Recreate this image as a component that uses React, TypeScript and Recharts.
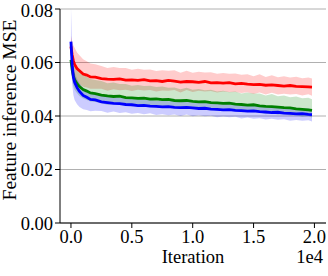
import React from "react";
import {
  ComposedChart,
  Area,
  Line,
  XAxis,
  YAxis,
  CartesianGrid,
  ReferenceArea,
} from "recharts";

// iteration count (x axis shown in units of 1e4)
const iterations = [
  0, 100, 200, 300, 500, 700, 1000, 1300, 1600, 2000,
  2500, 3000, 3500, 4000, 4500, 5000, 5500, 6000, 6500, 7000,
  7500, 8000, 8500, 9000, 9500, 10000, 10500, 11000, 11500, 12000,
  12500, 13000, 13500, 14000, 14500, 15000, 15500, 16000, 16500, 17000,
  17500, 18000, 18500, 19000, 19500, 19800,
];

// mean MSE per run
const redMean = [
  0.066, 0.0628, 0.0606, 0.0593, 0.0577, 0.0569, 0.0557, 0.0553, 0.0546, 0.0545,
  0.054, 0.0538, 0.0537, 0.0539, 0.0534, 0.0535, 0.0533, 0.0536, 0.0531, 0.0532,
  0.0529, 0.0533, 0.053, 0.0527, 0.0529, 0.0528, 0.0526, 0.0529, 0.0524, 0.0525,
  0.0523, 0.0525, 0.052, 0.0522, 0.0519, 0.0517, 0.0518, 0.0515, 0.0516, 0.0514,
  0.0512, 0.0514, 0.0511, 0.051, 0.0509, 0.0508,
];
const greenMean = [
  0.061, 0.0572, 0.055, 0.0536, 0.0521, 0.051, 0.0499, 0.0493, 0.0486, 0.0484,
  0.0478, 0.0475, 0.0473, 0.0474, 0.0469, 0.0468, 0.0466, 0.0467, 0.0463, 0.0464,
  0.0461, 0.0462, 0.0458, 0.0457, 0.0458, 0.0455, 0.0453, 0.0454, 0.045, 0.0449,
  0.0447, 0.0448, 0.0444, 0.0443, 0.0441, 0.0442, 0.0438, 0.0436, 0.0435, 0.0433,
  0.0431, 0.043, 0.0427, 0.0425, 0.0423, 0.0421,
];
const blueMean = [
  0.0678, 0.059, 0.0546, 0.0526, 0.0506, 0.0492, 0.0477, 0.047, 0.0462, 0.046,
  0.0453, 0.045, 0.0447, 0.0446, 0.0443, 0.0442, 0.0439, 0.044, 0.0437, 0.0436,
  0.0434, 0.0435, 0.0432, 0.0431, 0.0432, 0.043, 0.0428, 0.0429, 0.0426, 0.0425,
  0.0423, 0.0424, 0.0421, 0.042, 0.0418, 0.0419, 0.0416, 0.0415, 0.0413, 0.0414,
  0.0411, 0.041, 0.0408, 0.0409, 0.0406, 0.0405,
];

// shaded band: distance above / below the mean
const redUp = [
  0.004, 0.005, 0.0058, 0.0062, 0.006, 0.0058, 0.0055, 0.0052, 0.005, 0.0048,
  0.0047, 0.0041, 0.0046, 0.004, 0.0045, 0.0038, 0.0044, 0.0037, 0.0043, 0.0036,
  0.0042, 0.0036, 0.0041, 0.0035, 0.004, 0.0034, 0.0039, 0.0034, 0.004, 0.0033,
  0.0038, 0.0033, 0.0039, 0.0032, 0.0037, 0.0032, 0.0038, 0.0031, 0.0036, 0.0031,
  0.0037, 0.003, 0.0036, 0.0031, 0.0035, 0.0032,
];
const redDown = [
  0.004, 0.0048, 0.0052, 0.0054, 0.0052, 0.005, 0.0048, 0.0046, 0.0044, 0.0043,
  0.0038, 0.0044, 0.0037, 0.0043, 0.0036, 0.0042, 0.0035, 0.0041, 0.0034, 0.004,
  0.0034, 0.0039, 0.0033, 0.0039, 0.0032, 0.0038, 0.0032, 0.0037, 0.0031, 0.0037,
  0.0031, 0.0036, 0.003, 0.0036, 0.003, 0.0035, 0.003, 0.0035, 0.0029, 0.0034,
  0.0029, 0.0034, 0.0029, 0.0033, 0.0028, 0.0032,
];
const greenUp = [
  0.004, 0.0055, 0.006, 0.0062, 0.006, 0.0058, 0.0056, 0.0054, 0.0052, 0.0051,
  0.0053, 0.0047, 0.0052, 0.0046, 0.0051, 0.0045, 0.005, 0.0045, 0.005, 0.0044,
  0.0049, 0.0044, 0.0049, 0.0043, 0.0048, 0.0043, 0.0048, 0.0042, 0.0048, 0.0043,
  0.0047, 0.0042, 0.0048, 0.0041, 0.0047, 0.0042, 0.0046, 0.0041, 0.0047, 0.0041,
  0.0046, 0.004, 0.0046, 0.0041, 0.0045, 0.0042,
];
const greenDown = [
  0.0035, 0.004, 0.004, 0.0038, 0.0036, 0.0035, 0.0034, 0.0033, 0.0032, 0.0032,
  0.0029, 0.0034, 0.0028, 0.0033, 0.0028, 0.0032, 0.0027, 0.0032, 0.0027, 0.0031,
  0.0027, 0.0031, 0.0026, 0.0031, 0.0026, 0.003, 0.0026, 0.003, 0.0025, 0.003,
  0.0025, 0.0029, 0.0025, 0.0029, 0.0025, 0.0029, 0.0024, 0.0029, 0.0024, 0.0028,
  0.0024, 0.0028, 0.0024, 0.0028, 0.0023, 0.0027,
];
const blueUp = [
  0.013, 0.006, 0.0042, 0.0036, 0.0032, 0.003, 0.0028, 0.0027, 0.0026, 0.0026,
  0.0028, 0.0022, 0.0027, 0.0022, 0.0027, 0.0021, 0.0026, 0.0021, 0.0026, 0.002,
  0.0026, 0.002, 0.0025, 0.002, 0.0025, 0.0019, 0.0025, 0.002, 0.0024, 0.0019,
  0.0024, 0.0019, 0.0024, 0.0018, 0.0024, 0.0019, 0.0023, 0.0018, 0.0023, 0.0018,
  0.0023, 0.0018, 0.0022, 0.0018, 0.0022, 0.0019,
];
const blueDown = [
  0.006, 0.007, 0.0068, 0.0066, 0.0062, 0.0058, 0.0052, 0.0048, 0.0044, 0.004,
  0.0034, 0.0038, 0.003, 0.0035, 0.0029, 0.0034, 0.0028, 0.0033, 0.0027, 0.0032,
  0.0027, 0.0032, 0.0026, 0.0031, 0.0026, 0.0031, 0.0025, 0.003, 0.0025, 0.003,
  0.0025, 0.0029, 0.0024, 0.0029, 0.0024, 0.0029, 0.0024, 0.0028, 0.0023, 0.0028,
  0.0023, 0.0028, 0.0023, 0.0027, 0.0022, 0.0026,
];

const xTicks = [0, 5000, 10000, 15000, 20000];
const yTicks = [0, 0.02, 0.04, 0.06, 0.08];

const FONT = "'Liberation Serif', 'Times New Roman', serif";
const FONT_SIZE = 18.5;

const data = iterations.map((it, i) => ({
  it,
  red: redMean[i],
  green: greenMean[i],
  blue: blueMean[i],
  redBand: [redMean[i] - redDown[i], redMean[i] + redUp[i]],
  greenBand: [greenMean[i] - greenDown[i], greenMean[i] + greenUp[i]],
  blueBand: [blueMean[i] - blueDown[i], blueMean[i] + blueUp[i]],
}));

const tickStyle = { fontFamily: FONT, fontSize: FONT_SIZE, fill: "#000" };

export default function App() {
  return (
    <div style={{ position: "absolute", left: 0, top: 0, width: 328, height: 276, background: "#fff" }}>
      <ComposedChart
        width={328}
        height={276}
        data={data}
        margin={{ top: 9, right: 2, bottom: 0, left: 0 }}
      >
        <CartesianGrid vertical={false} stroke="#b0b0b0" strokeWidth={1} />
        <XAxis
          dataKey="it"
          type="number"
          domain={[-900, 20950]}
          ticks={xTicks}
          tickFormatter={(v: number) => (v / 1e4).toFixed(1)}
          tick={tickStyle}
          tickSize={5}
          tickMargin={2}
          height={53}
          stroke="#000"
          allowDataOverflow
        />
        <YAxis
          type="number"
          domain={[0, 0.08]}
          ticks={yTicks}
          tickFormatter={(v: number) => v.toFixed(2)}
          tick={tickStyle}
          tickSize={5}
          tickMargin={2}
          width={60}
          stroke="#000"
          allowDataOverflow
        />

        {/* shaded spread bands */}
        <Area dataKey="redBand" type="linear" stroke="none" fill="#ff0000" fillOpacity={0.2} isAnimationActive={false} />
        <Area dataKey="greenBand" type="linear" stroke="none" fill="#008000" fillOpacity={0.2} isAnimationActive={false} />
        <Area dataKey="blueBand" type="linear" stroke="none" fill="#0000ff" fillOpacity={0.2} isAnimationActive={false} />

        {/* mean curves */}
        <Line dataKey="red" type="linear" stroke="#ff0000" strokeWidth={2.8} dot={false} isAnimationActive={false} />
        <Line dataKey="green" type="linear" stroke="#008000" strokeWidth={2.8} dot={false} isAnimationActive={false} />
        <Line dataKey="blue" type="linear" stroke="#0000ff" strokeWidth={2.8} dot={false} isAnimationActive={false} />

        {/* full frame around plot area */}
        <ReferenceArea fill="none" stroke="#000" strokeWidth={1} ifOverflow="visible" />
      </ComposedChart>

      {/* axis titles and the 1e4 offset text */}
      <svg
        width={328}
        height={276}
        style={{ position: "absolute", left: 0, top: 0, pointerEvents: "none" }}
        fontFamily={FONT}
        fontSize={FONT_SIZE}
        fill="#000"
      >
        <text x={193} y={263} textAnchor="middle">Iteration</text>
        <text x={323} y={263} textAnchor="end">1e4</text>
        <text x={16} y={110} transform="rotate(-90 16 110)" textAnchor="middle" fontSize={19.5}>
          Feature inference MSE
        </text>
      </svg>
    </div>
  );
}
